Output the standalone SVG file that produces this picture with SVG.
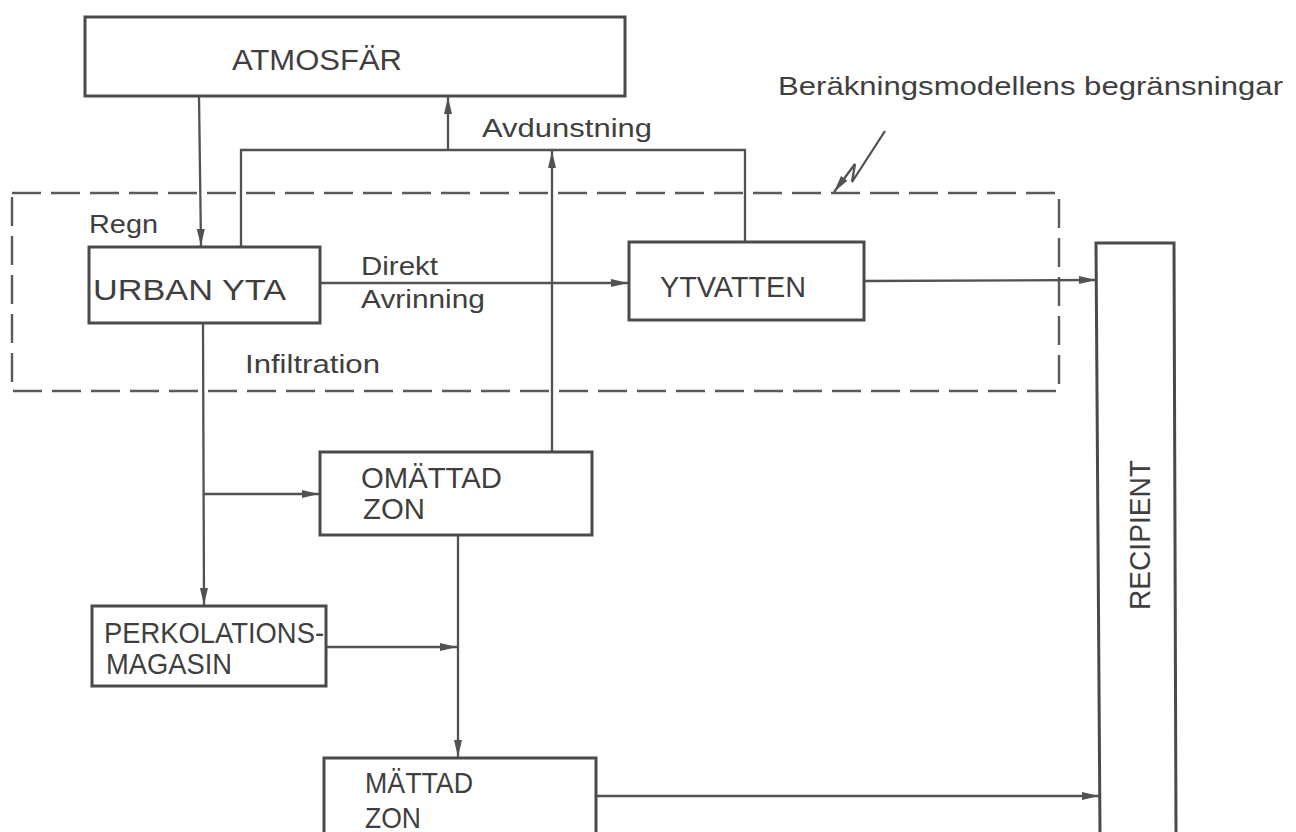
<svg xmlns="http://www.w3.org/2000/svg" width="1296" height="832" viewBox="0 0 1296 832">
<style>
  .box { fill: none; stroke: #4a4a4a; stroke-width: 3; }
  .ln { fill: none; stroke: #525252; stroke-width: 2.3; }
  .arr { fill: none; stroke: #525252; stroke-width: 2.3; marker-end: url(#ah); }
  .dash { fill: none; stroke: #5a5a5a; stroke-width: 2.4; stroke-dasharray: 29 10; }
  .lbl { font-family: "Liberation Sans", Arial, sans-serif; font-size: 29px; fill: #3f3f3f; }
  .sm { font-family: "Liberation Sans", Arial, sans-serif; font-size: 26px; fill: #3f3f3f; }
</style>
<defs>
  <marker id="ah" markerUnits="userSpaceOnUse" markerWidth="18" markerHeight="10" refX="17" refY="5" orient="auto">
    <path d="M0,1 L17,5 L0,9 z" fill="#525252"/>
  </marker>
</defs>
<rect width="1296" height="832" fill="#fff"/>

<g id="boundary">
  <rect class="dash" x="12" y="193" width="1047" height="198"/>
</g>

<g id="connectors">
  <line class="arr" x1="199" y1="96" x2="201" y2="246"/>
  <path class="ln" d="M241,247 L241,150 L745,150 L745,242"/>
  <line class="arr" x1="448" y1="150" x2="448" y2="97"/>
  <line class="arr" x1="552" y1="452" x2="552" y2="151"/>
  <line class="arr" x1="320" y1="283" x2="628" y2="283"/>
  <line class="arr" x1="864" y1="281" x2="1096" y2="280"/>
  <line class="arr" x1="203" y1="323" x2="204" y2="605"/>
  <line class="arr" x1="203" y1="494" x2="319" y2="494"/>
  <line class="arr" x1="458" y1="535" x2="458" y2="757"/>
  <line class="arr" x1="326" y1="647" x2="457" y2="647"/>
  <line class="arr" x1="596" y1="796" x2="1099" y2="796"/>
  <path class="arr" d="M885,131 L852,182 L855,164 L834,192"/>
</g>

<g id="atmosfar">
  <rect class="box" x="85" y="17" width="540" height="79"/>
  <text class="lbl" x="232" y="70" textLength="170" lengthAdjust="spacingAndGlyphs">ATMOSFÄR</text>
</g>

<g id="urban-yta">
  <rect class="box" x="89" y="247" width="231" height="76"/>
  <text class="lbl" x="93" y="300" textLength="193" lengthAdjust="spacingAndGlyphs">URBAN  YTA</text>
</g>

<g id="ytvatten">
  <rect class="box" x="629" y="242" width="235" height="78"/>
  <text class="lbl" x="660" y="297" textLength="146" lengthAdjust="spacingAndGlyphs">YTVATTEN</text>
</g>

<g id="omattad-zon">
  <rect class="box" x="320" y="452" width="272" height="83"/>
  <text class="lbl" x="361" y="488" textLength="141" lengthAdjust="spacingAndGlyphs">OMÄTTAD</text>
  <text class="lbl" x="363" y="519" textLength="62" lengthAdjust="spacingAndGlyphs">ZON</text>
</g>

<g id="perkolationsmagasin">
  <rect class="box" x="92" y="606" width="234" height="80"/>
  <text class="lbl" x="104" y="643" textLength="220" lengthAdjust="spacingAndGlyphs">PERKOLATIONS-</text>
  <text class="lbl" x="106" y="674" textLength="126" lengthAdjust="spacingAndGlyphs">MAGASIN</text>
</g>

<g id="mattad-zon">
  <path class="box" d="M324,834 L324,758 L596,758 L596,834"/>
  <text class="lbl" x="365" y="793" textLength="108" lengthAdjust="spacingAndGlyphs">MÄTTAD</text>
  <text class="lbl" x="365" y="828" textLength="56" lengthAdjust="spacingAndGlyphs">ZON</text>
</g>

<g id="recipient">
  <path class="box" d="M1100,834 L1096,243 L1174,243 L1176,834"/>
  <text class="lbl" transform="translate(1150,610) rotate(-90)" x="0" y="0" textLength="150" lengthAdjust="spacingAndGlyphs">RECIPIENT</text>
</g>

<g id="labels">
  <text class="sm" x="482" y="137" textLength="170" lengthAdjust="spacingAndGlyphs">Avdunstning</text>
  <text class="sm" x="778" y="95" textLength="505" lengthAdjust="spacingAndGlyphs">Beräkningsmodellens begränsningar</text>
  <text class="sm" x="89" y="233" textLength="69" lengthAdjust="spacingAndGlyphs">Regn</text>
  <text class="sm" x="361" y="275" textLength="77" lengthAdjust="spacingAndGlyphs">Direkt</text>
  <text class="sm" x="361" y="308" textLength="124" lengthAdjust="spacingAndGlyphs">Avrinning</text>
  <text class="sm" x="245" y="373" textLength="135" lengthAdjust="spacingAndGlyphs">Infiltration</text>
</g>
</svg>
